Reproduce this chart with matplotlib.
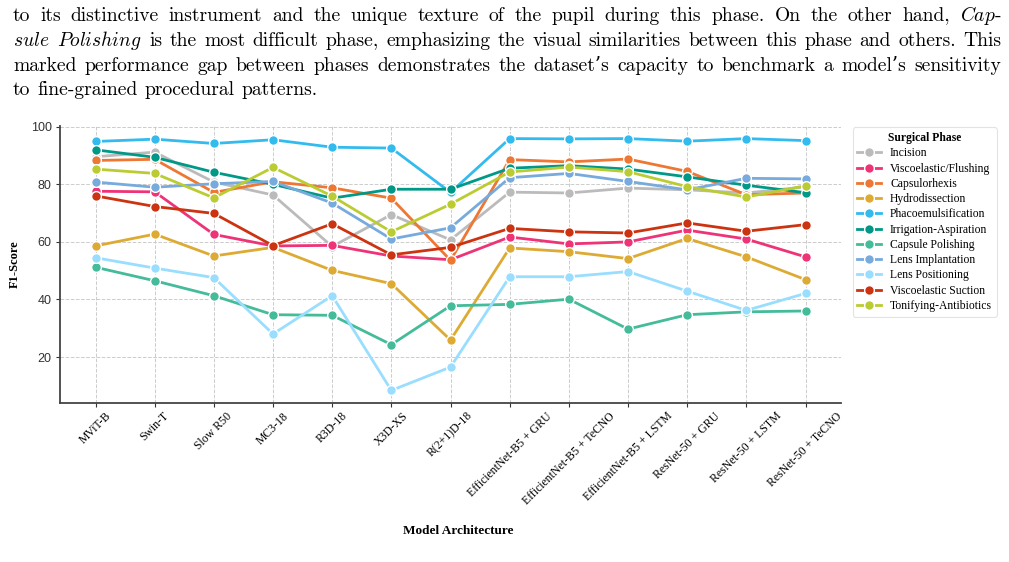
import matplotlib
matplotlib.use("Agg")
import matplotlib.pyplot as plt
from matplotlib.font_manager import FontProperties

plt.rcParams['mathtext.fontset'] = 'cm'
plt.rcParams['axes.unicode_minus'] = False

# model architectures (x axis)
models = ['MViT-B', 'Swin-T', 'Slow R50', 'MC3-18', 'R3D-18', 'X3D-XS', 'R(2+1)D-18',
          'EfficientNet-B5 + GRU', 'EfficientNet-B5 + TeCNO', 'EfficientNet-B5 + LSTM',
          'ResNet-50 + GRU', 'ResNet-50 + LSTM', 'ResNet-50 + TeCNO']

# F1 per surgical phase
incision = [89.6, 91.2, 80.8, 76.3, 58.4, 69.5, 60.7, 77.3, 77.0, 78.7, 78.1, 77.0, 79.1]
visco_flushing = [77.6, 77.4, 62.6, 58.6, 58.8, 55.1, 53.8, 61.7, 59.3, 60.0, 64.1, 61.0, 54.8]
capsulorhexis = [88.3, 88.7, 77.2, 80.9, 78.8, 75.2, 53.6, 88.6, 87.8, 88.8, 84.5, 76.4, 77.0]
hydrodissection = [58.6, 62.7, 55.1, 58.1, 50.1, 45.5, 25.9, 57.9, 56.6, 54.2, 61.2, 54.8, 46.9]
phaco = [94.9, 95.7, 94.2, 95.5, 92.9, 92.6, 77.2, 95.9, 95.8, 95.9, 95.0, 95.9, 95.2]
irrigation = [92.0, 89.4, 84.2, 80.0, 75.2, 78.3, 78.3, 85.6, 86.5, 85.3, 82.6, 79.7, 77.1]
capsule_polishing = [51.2, 46.5, 41.3, 34.7, 34.5, 24.3, 37.8, 38.3, 40.1, 29.7, 34.7, 35.7, 36.0]
lens_implantation = [80.8, 79.0, 80.2, 81.0, 73.5, 61.0, 64.9, 82.3, 83.8, 81.0, 78.1, 82.1, 81.9]
lens_positioning = [54.5, 50.9, 47.6, 28.0, 41.3, 8.4, 16.5, 47.9, 47.9, 49.7, 42.9, 36.2, 42.1]
visco_suction = [76.0, 72.3, 69.9, 58.7, 66.3, 55.5, 58.1, 64.7, 63.5, 63.1, 66.6, 63.7, 66.0]
tonifying = [85.3, 83.8, 75.3, 85.9, 75.9, 63.5, 73.1, 84.3, 86.0, 84.4, 79.2, 75.6, 79.5]

phases = ['Incision', 'Viscoelastic/Flushing', 'Capsulorhexis', 'Hydrodissection',
          'Phacoemulsification', 'Irrigation-Aspiration', 'Capsule Polishing',
          'Lens Implantation', 'Lens Positioning', 'Viscoelastic Suction',
          'Tonifying-Antibiotics']
values = [incision, visco_flushing, capsulorhexis, hydrodissection, phaco, irrigation,
          capsule_polishing, lens_implantation, lens_positioning, visco_suction, tonifying]
colors = ['#bbbbbb', '#ee3377', '#ee7733', '#ddaa33', '#33bbee', '#009988',
          '#44bb99', '#77aadd', '#99ddff', '#cc3311', '#bbcc33']

W, H = 1009, 562
fig = plt.figure(figsize=(W / 100, H / 100), dpi=100)

# paragraph of the paper above the chart (justified like the page)
para = [
    ['to', 'its', 'distinctive', 'instrument', 'and', 'the', 'unique', 'texture', 'of',
     'the', 'pupil', 'during', 'this', 'phase.', 'On', 'the', 'other', 'hand,',
     r'$\mathit{Cap}$-'],
    [r'$\mathit{sule}$', r'$\mathit{Polishing}$', 'is', 'the', 'most', 'difficult',
     'phase,', 'emphasizing', 'the', 'visual', 'similarities', 'between', 'this', 'phase',
     'and', 'others.', 'This'],
    ['marked', 'performance', 'gap', 'between', 'phases', 'demonstrates', 'the',
     'dataset\u2019s', 'capacity', 'to', 'benchmark', 'a', 'model\u2019s', 'sensitivity'],
    ['to', 'fine-grained', 'procedural', 'patterns.'],
]
baselines = [21, 45.5, 70.5, 95]
x0, x1 = 13, 1001
renderer = fig.canvas.get_renderer()
lines = []
for words, yb in zip(para, baselines):
    lines.append([fig.text(0, 1 - yb / H, w, fontsize=10, family=['cmr10', 'DejaVu Serif'],
                           va='baseline') for w in words])

# pick a size so the full lines fit with normal word spacing
scales = []
for objs in lines[:3]:
    natural = sum(t.get_window_extent(renderer).width for t in objs)
    natural += (len(objs) - 1) * 0.36 * 10 * 100 / 72
    scales.append((x1 - x0) / natural)
fs = 10 * min(scales)
for i, objs in enumerate(lines):
    for t in objs:
        t.set_fontsize(fs)
    widths = [t.get_window_extent(renderer).width for t in objs]
    if i < len(lines) - 1:
        gap = (x1 - x0 - sum(widths)) / (len(objs) - 1)
    else:
        gap = 0.36 * fs * 100 / 72
    x = x0
    for t, w in zip(objs, widths):
        t.set_x(x / W)
        x += w + gap

ax = fig.add_axes([60 / W, 1 - 403 / H, (841 - 60) / W, (403 - 126) / H])
xs = list(range(len(models)))
for name, vals, c in zip(phases, values, colors):
    ax.plot(xs, vals, color=c, linewidth=2, marker='o', markersize=7,
            markeredgecolor='white', markeredgewidth=1, label=name)

ax.set_xticks(xs)
ax.set_xticklabels(models, rotation=45, ha='center', fontsize=8.5, family='Liberation Serif')
ax.set_yticks([20, 40, 60, 80, 100])
ax.tick_params(axis='y', labelsize=9, labelcolor='#333333', length=3, color='#333333', pad=3)
ax.tick_params(axis='x', length=3, color='#333333', pad=2)
for lab in ax.get_yticklabels():
    lab.set_family('Liberation Sans')

ax.grid(True, linestyle='--', color='#cccccc', linewidth=0.7)
ax.set_axisbelow(True)
for s in ['top', 'right']:
    ax.spines[s].set_visible(False)
for s in ['left', 'bottom']:
    ax.spines[s].set_color('#444444')
    ax.spines[s].set_linewidth(1.3)

ax.set_xlabel('Model Architecture', fontsize=9.5, fontweight='bold', family='Liberation Serif')
ax.xaxis.set_label_coords(0.51, -0.44)
ax.set_ylabel('F1-Score', fontsize=9, fontweight='bold', family='Liberation Serif')
ax.yaxis.set_label_coords(-0.05, 0.5)

leg = ax.legend(title='Surgical Phase', loc='upper left', bbox_to_anchor=(1.015, 0.995),
                prop=FontProperties(family='Liberation Serif', size=8.4),
                title_fontproperties=FontProperties(family='Liberation Serif', size=8.4,
                                                    weight='bold'),
                frameon=True, edgecolor='#dddddd', handlelength=2.0, labelspacing=0.28,
                borderaxespad=0)
leg.get_frame().set_linewidth(0.8)

fig.savefig('out.png', dpi=100)
